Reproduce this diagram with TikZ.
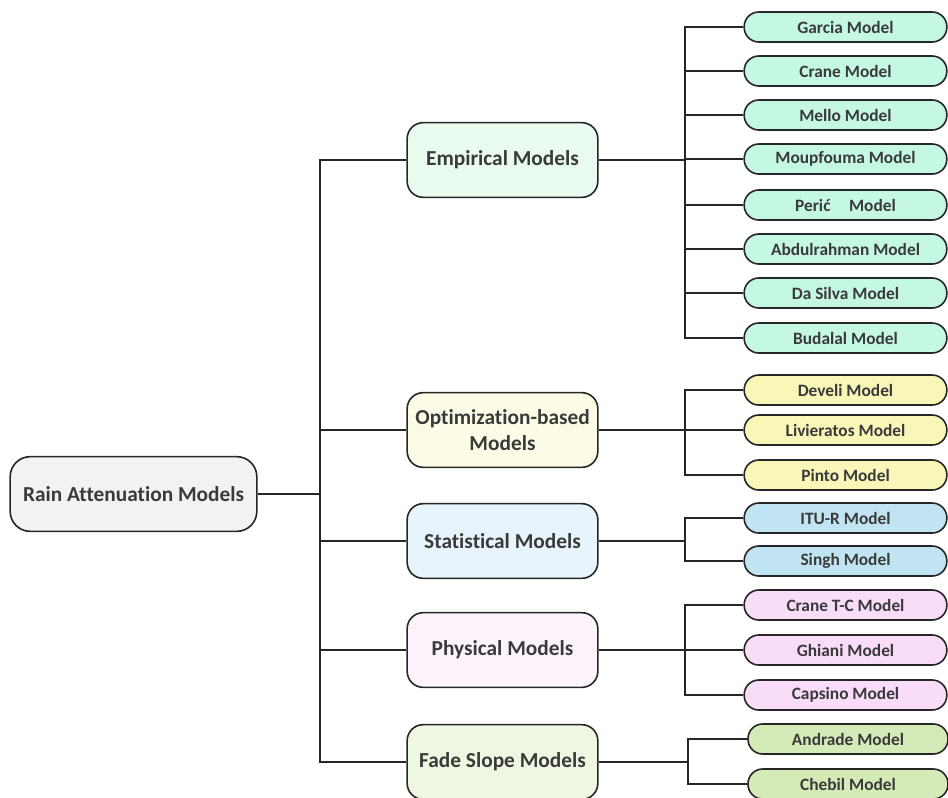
\documentclass[tikz,border=0pt]{standalone}
\usepackage{fontspec}
\setmainfont{Carlito}[Ligatures=NoCommon]
\usetikzlibrary{positioning}

\definecolor{txtgray}{HTML}{3A3A3A}
\definecolor{rootfill}{HTML}{F2F2F2}
\definecolor{empmid}{HTML}{E9FBEE}
\definecolor{empleaf}{HTML}{C4F8E2}
\definecolor{optmid}{HTML}{FCFCE6}
\definecolor{optleaf}{HTML}{F9F7B8}
\definecolor{statmid}{HTML}{E8F4FC}
\definecolor{statleaf}{HTML}{C0E4F2}
\definecolor{physmid}{HTML}{FDF3FD}
\definecolor{physleaf}{HTML}{F8DCF8}
\definecolor{fademid}{HTML}{EEF7E2}
\definecolor{fadeleaf}{HTML}{D4EBB7}

\begin{document}
\begin{tikzpicture}[
    x=0.75pt, y=-0.75pt,
    font=\bfseries, text=txtgray,
    link/.style={line width=1.1pt, draw=black!85, line join=miter},
    rootbox/.style={draw=black!85, line width=1.2pt, fill=rootfill, rounded corners=15pt,
      minimum width=185pt, minimum height=56pt, inner sep=0pt, font=\bfseries\fontsize{16}{19}\selectfont},
    midbox/.style={draw=black!85, line width=1.2pt, rounded corners=12pt, align=center,
      minimum width=143pt, minimum height=56pt, inner sep=0pt, font=\bfseries\fontsize{16}{19}\selectfont},
    leafbox/.style={draw=black!85, line width=1.2pt, rounded corners=11pt,
      minimum width=152pt, minimum height=22.5pt, inner sep=0pt, font=\bfseries\fontsize{13}{15}\selectfont}
]
  \useasboundingbox (0,0) rectangle (948,797);
  \def\midx{502.5}
  \def\leafx{845.5}
  \def\forkx{685}

  % root and trunk
  \node[rootbox] (root) at (133.5,494) {Rain Attenuation Models};
  \coordinate (trunk) at (320,494);
  \draw[link] (root.east) -- (trunk);

  % second level
  \node[midbox, fill=empmid] (empirical) at (\midx,160) {Empirical Models};
  \node[midbox, fill=optmid] (optim) at (\midx,430) {Optimization-based\\Models};
  \node[midbox, fill=statmid] (statistical) at (\midx,541) {Statistical Models};
  \node[midbox, fill=physmid] (physical) at (\midx,650) {Physical Models};
  \node[midbox, fill=fademid] (fadeslope) at (\midx,762) {Fade Slope Models};

  \foreach \m in {empirical,optim,statistical,physical,fadeslope} {
    \draw[link] (\m.west) -| (trunk);
  }

  % forks
  \coordinate (empfork) at (\forkx,160);
  \coordinate (optfork) at (\forkx,430);
  \coordinate (statfork) at (\forkx,541);
  \coordinate (physfork) at (\forkx,650);
  \coordinate (fadefork) at (688,762);
  \draw[link] (empirical.east) -- (empfork);
  \draw[link] (optim.east) -- (optfork);
  \draw[link] (statistical.east) -- (statfork);
  \draw[link] (physical.east) -- (physfork);
  \draw[link] (fadeslope.east) -- (fadefork);

  % leaves
  \foreach \name/\y [count=\i] in {Garcia/27, Crane/71, Mello/115, Moupfouma/159,
      {Perić\hspace{11pt}}/205, Abdulrahman/249, Da Silva/293, Budalal/338} {
    \node[leafbox, fill=empleaf] (emp-\i) at (\leafx,\y) {\name\ Model};
    \draw[link] (emp-\i.west) -| (empfork);
  }
  \foreach \name/\y [count=\i] in {Develi/390, Livieratos/430, Pinto/475} {
    \node[leafbox, fill=optleaf] (opt-\i) at (\leafx,\y) {\name\ Model};
    \draw[link] (opt-\i.west) -| (optfork);
  }
  \foreach \name/\y [count=\i] in {ITU-R/518, Singh/561} {
    \node[leafbox, fill=statleaf] (stat-\i) at (\leafx,\y) {\name\ Model};
    \draw[link] (stat-\i.west) -| (statfork);
  }
  \foreach \name/\y [count=\i] in {Crane T-C/605, Ghiani/650, Capsino/695} {
    \node[leafbox, fill=physleaf] (phys-\i) at (\leafx,\y) {\name\ Model};
    \draw[link] (phys-\i.west) -| (physfork);
  }
  \foreach \name/\y [count=\i] in {Andrade/739, Chebil/784} {
    \node[leafbox, fill=fadeleaf, minimum width=150pt] (fade-\i) at (848,\y) {\name\ Model};
    \draw[link] (fade-\i.west) -| (fadefork);
  }
\end{tikzpicture}
\end{document}
